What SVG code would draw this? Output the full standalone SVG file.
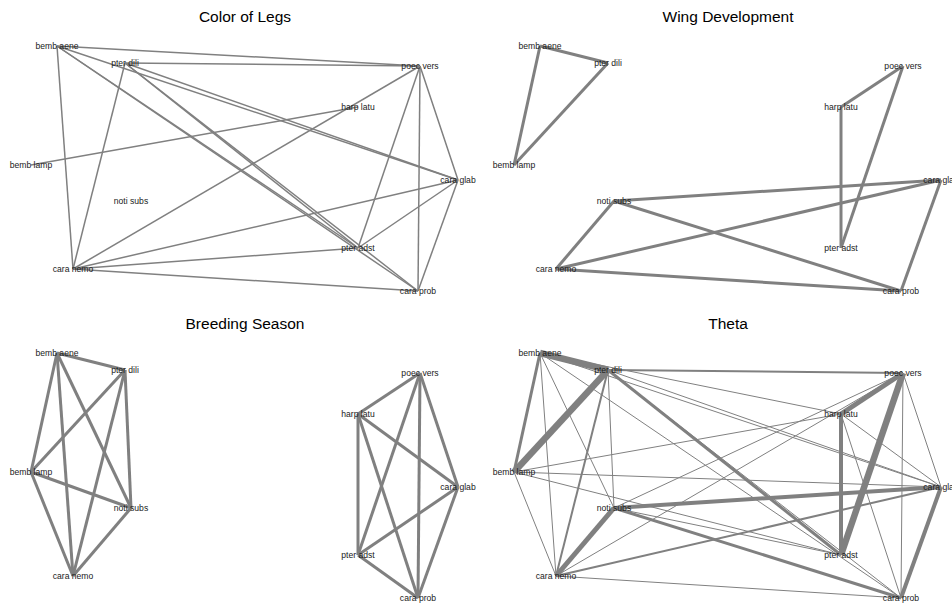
<svg xmlns="http://www.w3.org/2000/svg" width="952" height="606" viewBox="0 0 952 606">
<style>
.title{font-family:"Liberation Sans",Arial,sans-serif;font-size:15.5px;fill:#000;text-anchor:middle}
.lab{font-family:"Liberation Sans",Arial,sans-serif;font-size:8.6px;fill:#1a1a1a;text-anchor:middle}
.edges line{stroke:#808080;stroke-linecap:butt;fill:none}
.w1 line{stroke-width:1.5}
.w3 line{stroke-width:3}
.t1{stroke-width:1}
.t2{stroke-width:2}
.t3{stroke-width:3}
.t4{stroke-width:4}
.t5{stroke-width:5}
.t6{stroke-width:6.5}
</style>
<rect width="952" height="606" fill="#fff"/>

<!-- Panel 1: Color of Legs -->
<g id="panel1">
<text class="title" x="245" y="22">Color of Legs</text>
<g id="p1-edges" class="edges w1">
<line x1="57" y1="46" x2="420" y2="66"/>
<line x1="57" y1="46" x2="73" y2="269"/>
<line x1="57" y1="46" x2="458" y2="180"/>
<line x1="57" y1="46" x2="358" y2="248"/>
<line x1="57" y1="46" x2="418" y2="291"/>
<line x1="125" y1="63" x2="420" y2="66"/>
<line x1="125" y1="63" x2="73" y2="269"/>
<line x1="125" y1="63" x2="458" y2="180"/>
<line x1="125" y1="63" x2="358" y2="248"/>
<line x1="125" y1="63" x2="418" y2="291"/>
<line x1="420" y1="66" x2="73" y2="269"/>
<line x1="420" y1="66" x2="358" y2="248"/>
<line x1="420" y1="66" x2="418" y2="291"/>
<line x1="420" y1="66" x2="458" y2="180"/>
<line x1="358" y1="107" x2="31" y2="165"/>
<line x1="458" y1="180" x2="73" y2="269"/>
<line x1="458" y1="180" x2="358" y2="248"/>
<line x1="458" y1="180" x2="418" y2="291"/>
<line x1="358" y1="248" x2="73" y2="269"/>
<line x1="418" y1="291" x2="73" y2="269"/>
</g>
<g id="p1-bemb-aene"><text class="lab" x="57" y="49">bemb aene</text></g>
<g id="p1-pter-dili"><text class="lab" x="125" y="66">pter dili</text></g>
<g id="p1-poec-vers"><text class="lab" x="420" y="69">poec vers</text></g>
<g id="p1-harp-latu"><text class="lab" x="358" y="110">harp latu</text></g>
<g id="p1-bemb-lamp"><text class="lab" x="31" y="168">bemb lamp</text></g>
<g id="p1-noti-subs"><text class="lab" x="131" y="204">noti subs</text></g>
<g id="p1-cara-glab"><text class="lab" x="458" y="183">cara glab</text></g>
<g id="p1-pter-adst"><text class="lab" x="358" y="251">pter adst</text></g>
<g id="p1-cara-nemo"><text class="lab" x="73" y="272">cara nemo</text></g>
<g id="p1-cara-prob"><text class="lab" x="418" y="294">cara prob</text></g>
</g>

<!-- Panel 2: Wing Development -->
<g id="panel2" transform="translate(483,0)">
<text class="title" x="245" y="22">Wing Development</text>
<g id="p2-edges" class="edges w3">
<line x1="57" y1="46" x2="125" y2="63"/>
<line x1="57" y1="46" x2="31" y2="165"/>
<line x1="125" y1="63" x2="31" y2="165"/>
<line x1="420" y1="66" x2="358" y2="107"/>
<line x1="420" y1="66" x2="358" y2="248"/>
<line x1="358" y1="107" x2="358" y2="248"/>
<line x1="131" y1="201" x2="458" y2="180"/>
<line x1="131" y1="201" x2="73" y2="269"/>
<line x1="131" y1="201" x2="418" y2="291"/>
<line x1="73" y1="269" x2="458" y2="180"/>
<line x1="73" y1="269" x2="418" y2="291"/>
<line x1="458" y1="180" x2="418" y2="291"/>
</g>
<g id="p2-bemb-aene"><text class="lab" x="57" y="49">bemb aene</text></g>
<g id="p2-pter-dili"><text class="lab" x="125" y="66">pter dili</text></g>
<g id="p2-poec-vers"><text class="lab" x="420" y="69">poec vers</text></g>
<g id="p2-harp-latu"><text class="lab" x="358" y="110">harp latu</text></g>
<g id="p2-bemb-lamp"><text class="lab" x="31" y="168">bemb lamp</text></g>
<g id="p2-noti-subs"><text class="lab" x="131" y="204">noti subs</text></g>
<g id="p2-cara-glab"><text class="lab" x="458" y="183">cara glab</text></g>
<g id="p2-pter-adst"><text class="lab" x="358" y="251">pter adst</text></g>
<g id="p2-cara-nemo"><text class="lab" x="73" y="272">cara nemo</text></g>
<g id="p2-cara-prob"><text class="lab" x="418" y="294">cara prob</text></g>
</g>

<!-- Panel 3: Breeding Season -->
<g id="panel3" transform="translate(0,307)">
<text class="title" x="245" y="22">Breeding Season</text>
<g id="p3-edges" class="edges w3">
<line x1="57" y1="46" x2="125" y2="63"/>
<line x1="57" y1="46" x2="31" y2="165"/>
<line x1="57" y1="46" x2="131" y2="201"/>
<line x1="57" y1="46" x2="73" y2="269"/>
<line x1="125" y1="63" x2="31" y2="165"/>
<line x1="125" y1="63" x2="131" y2="201"/>
<line x1="125" y1="63" x2="73" y2="269"/>
<line x1="31" y1="165" x2="131" y2="201"/>
<line x1="31" y1="165" x2="73" y2="269"/>
<line x1="131" y1="201" x2="73" y2="269"/>
<line x1="420" y1="66" x2="358" y2="107"/>
<line x1="420" y1="66" x2="458" y2="180"/>
<line x1="420" y1="66" x2="358" y2="248"/>
<line x1="420" y1="66" x2="418" y2="291"/>
<line x1="358" y1="107" x2="458" y2="180"/>
<line x1="358" y1="107" x2="358" y2="248"/>
<line x1="358" y1="107" x2="418" y2="291"/>
<line x1="458" y1="180" x2="358" y2="248"/>
<line x1="458" y1="180" x2="418" y2="291"/>
<line x1="358" y1="248" x2="418" y2="291"/>
</g>
<g id="p3-bemb-aene"><text class="lab" x="57" y="49">bemb aene</text></g>
<g id="p3-pter-dili"><text class="lab" x="125" y="66">pter dili</text></g>
<g id="p3-poec-vers"><text class="lab" x="420" y="69">poec vers</text></g>
<g id="p3-harp-latu"><text class="lab" x="358" y="110">harp latu</text></g>
<g id="p3-bemb-lamp"><text class="lab" x="31" y="168">bemb lamp</text></g>
<g id="p3-noti-subs"><text class="lab" x="131" y="204">noti subs</text></g>
<g id="p3-cara-glab"><text class="lab" x="458" y="183">cara glab</text></g>
<g id="p3-pter-adst"><text class="lab" x="358" y="251">pter adst</text></g>
<g id="p3-cara-nemo"><text class="lab" x="73" y="272">cara nemo</text></g>
<g id="p3-cara-prob"><text class="lab" x="418" y="294">cara prob</text></g>
</g>

<!-- Panel 4: Theta -->
<g id="panel4" transform="translate(483,307)">
<text class="title" x="245" y="22">Theta</text>
<g id="p4-edges" class="edges">
<line class="t6" x1="57" y1="46" x2="125" y2="63"/>
<line class="t6" x1="125" y1="63" x2="31" y2="165"/>
<line class="t5" x1="420" y1="66" x2="358" y2="107"/>
<line class="t6" x1="420" y1="66" x2="358" y2="248"/>
<line class="t5" x1="73" y1="269" x2="131" y2="201"/>
<line class="t4" x1="358" y1="107" x2="358" y2="248"/>
<line class="t4" x1="131" y1="201" x2="458" y2="180"/>
<line class="t4" x1="458" y1="180" x2="418" y2="291"/>
<line class="t3" x1="57" y1="46" x2="31" y2="165"/>
<line class="t2" x1="125" y1="63" x2="420" y2="66"/>
<line class="t3" x1="125" y1="63" x2="358" y2="248"/>
<line class="t3" x1="131" y1="201" x2="418" y2="291"/>
<line class="t2" x1="125" y1="63" x2="73" y2="269"/>
<line class="t2" x1="73" y1="269" x2="458" y2="180"/>
<line class="t1" x1="57" y1="46" x2="73" y2="269"/>
<line class="t1" x1="57" y1="46" x2="131" y2="201"/>
<line class="t1" x1="57" y1="46" x2="358" y2="107"/>
<line class="t1" x1="57" y1="46" x2="458" y2="180"/>
<line class="t1" x1="125" y1="63" x2="131" y2="201"/>
<line class="t1" x1="125" y1="63" x2="458" y2="180"/>
<line class="t1" x1="420" y1="66" x2="418" y2="291"/>
<line class="t1" x1="420" y1="66" x2="458" y2="180"/>
<line class="t1" x1="358" y1="107" x2="418" y2="291"/>
<line class="t1" x1="358" y1="107" x2="458" y2="180"/>
<line class="t1" x1="31" y1="165" x2="358" y2="107"/>
<line class="t1" x1="31" y1="165" x2="358" y2="248"/>
<line class="t1" x1="31" y1="165" x2="458" y2="180"/>
<line class="t1" x1="31" y1="165" x2="73" y2="269"/>
<line class="t1" x1="131" y1="201" x2="358" y2="248"/>
<line class="t1" x1="131" y1="201" x2="420" y2="66"/>
<line class="t1" x1="73" y1="269" x2="420" y2="66"/>
<line class="t1" x1="73" y1="269" x2="418" y2="291"/>
<line class="t1" x1="57" y1="46" x2="418" y2="291"/>
<line class="t1" x1="125" y1="63" x2="418" y2="291"/>
</g>
<g id="p4-bemb-aene"><text class="lab" x="57" y="49">bemb aene</text></g>
<g id="p4-pter-dili"><text class="lab" x="125" y="66">pter dili</text></g>
<g id="p4-poec-vers"><text class="lab" x="420" y="69">poec vers</text></g>
<g id="p4-harp-latu"><text class="lab" x="358" y="110">harp latu</text></g>
<g id="p4-bemb-lamp"><text class="lab" x="31" y="168">bemb lamp</text></g>
<g id="p4-noti-subs"><text class="lab" x="131" y="204">noti subs</text></g>
<g id="p4-cara-glab"><text class="lab" x="458" y="183">cara glab</text></g>
<g id="p4-pter-adst"><text class="lab" x="358" y="251">pter adst</text></g>
<g id="p4-cara-nemo"><text class="lab" x="73" y="272">cara nemo</text></g>
<g id="p4-cara-prob"><text class="lab" x="418" y="294">cara prob</text></g>
</g>
</svg>
